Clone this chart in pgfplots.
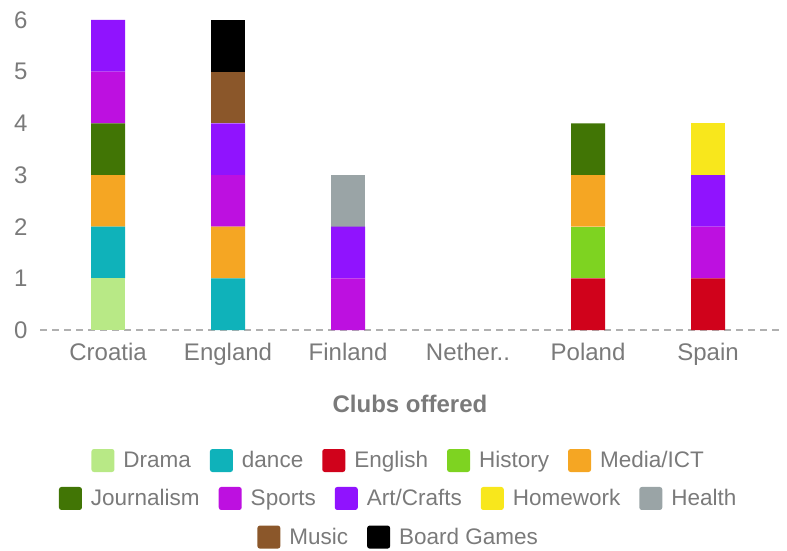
\documentclass[border=0pt]{standalone}
\usepackage{pgfplots}
\pgfplotsset{compat=1.18}
\usepackage{pgfplotstable}
\usepackage{fontspec}
\setmainfont{Liberation Sans}
\definecolor{cdrama}{HTML}{B8E986}
\definecolor{cdance}{HTML}{0FB2BA}
\definecolor{cenglish}{HTML}{D0021B}
\definecolor{chistory}{HTML}{7ED321}
\definecolor{cmedia}{HTML}{F5A623}
\definecolor{cjourn}{HTML}{417505}
\definecolor{csports}{HTML}{BD10E0}
\definecolor{cart}{HTML}{9013FE}
\definecolor{chome}{HTML}{F8E71C}
\definecolor{chealth}{HTML}{9AA4A6}
\definecolor{cmusic}{HTML}{8B572A}
\definecolor{cboard}{HTML}{000000}
\definecolor{txtgray}{HTML}{7A7A7A}
\definecolor{gridgray}{HTML}{B0B0B0}

\pgfplotstableread{
x Drama dance English History Media Journalism Sports Art Homework Health Music Board
0 1 1 0 0 1 1 1 1 0 0 0 0
1 0 1 0 0 1 0 1 1 0 0 1 1
2 0 0 0 0 0 0 1 1 0 1 0 0
3 0 0 0 0 0 0 0 0 0 0 0 0
4 0 0 1 1 1 1 0 0 0 0 0 0
5 0 0 1 0 0 0 1 1 1 0 0 0
}\clubs

\newcommand{\fs}{\fontsize{22.5bp}{27bp}\selectfont}
\newcommand{\ft}{\fontsize{24bp}{28bp}\selectfont}

\pgfplotsset{
  legaxis/.style={
    at={(0,0)}, anchor=south west, scale only axis,
    width=740bp, height=310bp, hide axis,
    xmin=0, xmax=1, ymin=0, ymax=1,
    legend columns=-1,
    legend image code/.code={\fill[##1, draw=none, rounded corners=2.5bp] (0bp,-11.5bp) rectangle (23bp,11.5bp);},
    legend style={draw=none, fill=none, font=\fs, text=txtgray,
      nodes={inner xsep=1bp},
      /tikz/every odd column/.append style={column sep=8bp},
      /tikz/every even column/.append style={column sep=18bp}},
  }
}

\begin{document}
\begin{tikzpicture}
\begin{axis}[
  at={(0,0)}, anchor=south west, scale only axis,
  width=740bp, height=310bp,
  ybar stacked, bar width=34bp,
  xmin=-0.567, xmax=5.6, ymin=0, ymax=6,
  xtick={0,...,5},
  xticklabels={Croatia,England,Finland,Nether..,Poland,Spain},
  ytick={0,...,6},
  axis line style={draw=none},
  major tick length=0pt,
  tick label style={font=\ft, text=txtgray},
  /pgf/number format/assume math mode=true,
  xticklabel style={yshift=-10bp},
  yticklabel style={xshift=-9bp},
  extra y ticks={0}, extra y tick labels={},
  extra y tick style={grid=major, major grid style={dash pattern=on 7bp off 5bp, line width=1.1bp, gridgray}},
  xlabel={\textbf{Clubs offered}},
  xlabel style={at={(axis description cs:0.5,-0.237)}, anchor=center, font=\ft, text=txtgray},
  clip=false,
  every axis plot/.append style={draw=none},
]
\addplot[fill=cdrama] table[x=x,y=Drama]{\clubs};
\addplot[fill=cdance] table[x=x,y=dance]{\clubs};
\addplot[fill=cenglish] table[x=x,y=English]{\clubs};
\addplot[fill=chistory] table[x=x,y=History]{\clubs};
\addplot[fill=cmedia] table[x=x,y=Media]{\clubs};
\addplot[fill=cjourn] table[x=x,y=Journalism]{\clubs};
\addplot[fill=csports] table[x=x,y=Sports]{\clubs};
\addplot[fill=cart] table[x=x,y=Art]{\clubs};
\addplot[fill=chome] table[x=x,y=Homework]{\clubs};
\addplot[fill=chealth] table[x=x,y=Health]{\clubs};
\addplot[fill=cmusic] table[x=x,y=Music]{\clubs};
\addplot[fill=cboard] table[x=x,y=Board]{\clubs};
\end{axis}

\begin{axis}[legaxis, legend style={at={(0.484,-0.421)}, anchor=center}]
\addlegendimage{fill=cdrama}\addlegendentry{Drama}
\addlegendimage{fill=cdance}\addlegendentry{dance}
\addlegendimage{fill=cenglish}\addlegendentry{English}
\addlegendimage{fill=chistory}\addlegendentry{History}
\addlegendimage{fill=cmedia}\addlegendentry{Media/ICT}
\end{axis}
\begin{axis}[legaxis, legend style={at={(0.484,-0.5435)}, anchor=center}]
\addlegendimage{fill=cjourn}\addlegendentry{Journalism}
\addlegendimage{fill=csports}\addlegendentry{Sports}
\addlegendimage{fill=cart}\addlegendentry{Art/Crafts}
\addlegendimage{fill=chome}\addlegendentry{Homework}
\addlegendimage{fill=chealth}\addlegendentry{Health}
\end{axis}
\begin{axis}[legaxis, legend style={at={(0.484,-0.668)}, anchor=center}]
\addlegendimage{fill=cmusic}\addlegendentry{Music}
\addlegendimage{fill=cboard}\addlegendentry{Board Games}
\end{axis}
\pgfresetboundingbox
\useasboundingbox (-40bp,-221bp) rectangle (747bp,330bp);
\end{tikzpicture}
\end{document}
